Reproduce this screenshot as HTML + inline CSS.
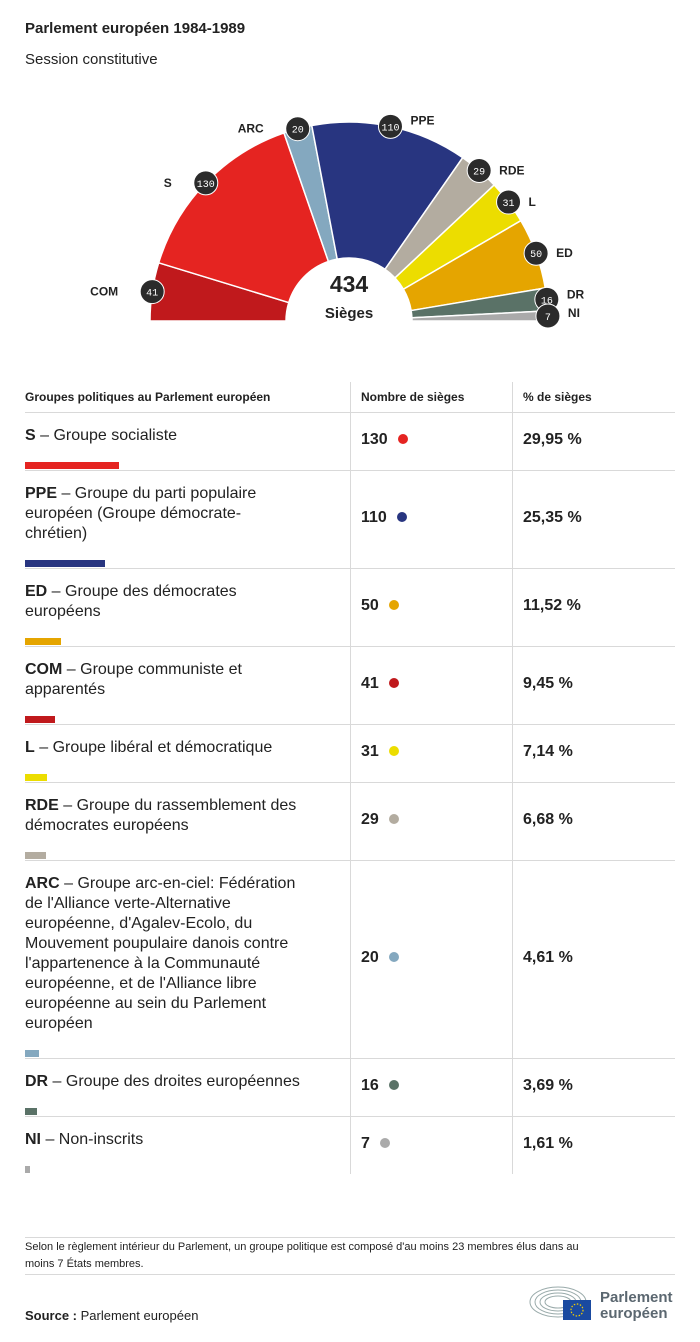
<!DOCTYPE html>
<html><head><meta charset="utf-8">
<style>
body{margin:0;background:#fff;font-family:"Liberation Sans",sans-serif;color:#222}
#root{position:relative;width:700px;height:1342px;overflow:hidden}
.abs{position:absolute}
.hl{position:absolute;height:1px;background:#d9d9d9}
.vl{position:absolute;width:1px;background:#d9d9d9}
.cell{position:absolute;font-size:16px;line-height:20px;color:#222}
.num{font-weight:bold}
.dot{display:inline-block;width:10px;height:10px;border-radius:50%;margin-left:10px;vertical-align:0px}
</style></head><body>
<div id="root">
<div class="abs" style="left:25px;top:20px;font-size:15px;font-weight:bold">Parlement européen 1984-1989</div>
<div class="abs" style="left:25px;top:51px;font-size:15px">Session constitutive</div>
<svg id="hemi" class="abs" style="left:0;top:0" width="700" height="360"></svg>

<div class="cell" style="left:25px;top:387px;font-size:12px;font-weight:bold">Groupes politiques au Parlement européen</div>
<div class="cell" style="left:361px;top:387px;font-size:12px;font-weight:bold">Nombre de sièges</div>
<div class="cell" style="left:523px;top:387px;font-size:12px;font-weight:bold">% de sièges</div>
<div class="vl" style="left:350px;top:382px;height:792px"></div>
<div class="vl" style="left:512px;top:382px;height:792px"></div>
<div class="hl" style="left:25px;width:650px;top:412px"></div>
<div id="table"></div>

<div class="hl" style="left:25px;width:650px;top:1237px"></div>
<div class="abs" style="left:25px;top:1239px;font-size:11px;line-height:17px;width:630px">Selon le règlement intérieur du Parlement, un groupe politique est composé d'au moins 23 membres élus dans au<br>moins 7 États membres.</div>
<div class="hl" style="left:25px;width:650px;top:1274px"></div>
<div class="abs" style="left:25px;top:1308px;font-size:13px"><b>Source :</b> Parlement européen</div>
<svg class="abs" style="left:528px;top:1284px" width="70" height="40">
<g fill="none" stroke="#9aa" stroke-width="1">
<ellipse cx="30" cy="18" rx="28" ry="15"/><ellipse cx="30" cy="18" rx="23" ry="12"/><ellipse cx="30" cy="18" rx="18" ry="9"/><ellipse cx="30" cy="18" rx="13" ry="6"/></g>
<rect x="35" y="16" width="28" height="20" fill="#1a4aa0"/>
<circle cx="49" cy="26" r="6" fill="none" stroke="#f5d000" stroke-width="1.2" stroke-dasharray="1.5 1.6"/>
</svg>
<div class="abs" style="left:600px;top:1290px;font-size:15px;line-height:16px;color:#5b6770;font-weight:bold">Parlement<br>européen</div>
</div>
<script>
const groups=["COM","S","ARC","PPE","RDE","L","ED","DR","NI"];
const seats=[41,130,20,110,29,31,50,16,7];
const colors=["#c0191c","#e52421","#84a8bf","#283580","#b3aca0","#ecdd00","#e5a500","#5a7267","#aaaaaa"];
const tblCodes=["S","PPE","ED","COM","L","RDE","ARC","DR","NI"];
const tblNames=[" – Groupe socialiste"," – Groupe du parti populaire<br>européen (Groupe démocrate-<br>chrétien)"," – Groupe des démocrates<br>européens"," – Groupe communiste et<br>apparentés"," – Groupe libéral et démocratique"," – Groupe du rassemblement des<br>démocrates européens"," – Groupe arc-en-ciel: Fédération<br>de l'Alliance verte-Alternative<br>européenne, d'Agalev-Ecolo, du<br>Mouvement poupulaire danois contre<br>l'appartenence à la Communauté<br>européenne, et de l'Alliance libre<br>européenne au sein du Parlement<br>européen"," – Groupe des droites européennes"," – Non-inscrits"];
const tblSeats=[130,110,50,41,31,29,20,16,7];
const tblPct=["29,95 %","25,35 %","11,52 %","9,45 %","7,14 %","6,68 %","4,61 %","3,69 %","1,61 %"];
const tblColors=["#e52421","#283580","#e5a500","#c0191c","#ecdd00","#b3aca0","#84a8bf","#5a7267","#aaaaaa"];

const NS="http://www.w3.org/2000/svg";
const svg=document.getElementById('hemi');
const cx=349,cy=321,r0=63,r1=199;
const total=seats.reduce((a,b)=>a+b,0);
function ang(s){return Math.PI-Math.PI*s/total;}
function pt(r,a){return [cx+r*Math.cos(a),cy-r*Math.sin(a)];}
let acc=0;
const badges=[];
seats.forEach((v,i)=>{
  const a0=ang(acc),a1=ang(acc+v),am=ang(acc+v/2);acc+=v;
  const p1=pt(r1,a0),p2=pt(r1,a1),p3=pt(r0,a1),p4=pt(r0,a0);
  const path=document.createElementNS(NS,'path');
  path.setAttribute('d',`M${p1[0]},${p1[1]} A${r1},${r1} 0 0 1 ${p2[0]},${p2[1]} L${p3[0]},${p3[1]} A${r0},${r0} 0 0 0 ${p4[0]},${p4[1]}Z`);
  path.setAttribute('fill',colors[i]);path.setAttribute('stroke','#fff');path.setAttribute('stroke-width','1.5');
  
  
  svg.appendChild(path);
  badges.push([pt(r1,am),i]);
});
badges.forEach(([p,i])=>{
  const g=document.createElementNS(NS,'g');
  
  
  const c=document.createElementNS(NS,'circle');
  c.setAttribute('cx',p[0]);c.setAttribute('cy',p[1]);c.setAttribute('r',12);
  c.setAttribute('fill','#2b2b2b');c.setAttribute('stroke','#fff');c.setAttribute('stroke-width','1');
  g.appendChild(c);
  const t=document.createElementNS(NS,'text');
  t.setAttribute('x',p[0]);t.setAttribute('y',p[1]+4);t.setAttribute('text-anchor','middle');
  t.setAttribute('fill','#fff');t.setAttribute('font-size','10');t.setAttribute('font-family','Liberation Mono, monospace');
  t.textContent=seats[i];g.appendChild(t);
  const l=document.createElementNS(NS,'text');
  const left=p[0]<cx;
  l.setAttribute('x',left?p[0]-34:p[0]+20);l.setAttribute('y',p[1]+(i==7?-1:i==8?1:4)+(i==3?-6:0));
  l.setAttribute('text-anchor',left?'end':'start');
  l.setAttribute('font-size','12');l.setAttribute('font-weight','bold');l.setAttribute('fill','#222');
  l.setAttribute('font-family','Liberation Sans, sans-serif');
  
  
  l.textContent=groups[i];
  g.appendChild(l);
  svg.appendChild(g);
});
const t1=document.createElementNS(NS,'text');
t1.setAttribute('x',cx);t1.setAttribute('y',292);t1.setAttribute('text-anchor','middle');
t1.setAttribute('font-size','23');t1.setAttribute('font-weight','bold');t1.setAttribute('fill','#222');t1.setAttribute('font-family','Liberation Sans, sans-serif');


t1.textContent=total;svg.appendChild(t1);
const t2=document.createElementNS(NS,'text');
t2.setAttribute('x',cx);t2.setAttribute('y',318);t2.setAttribute('text-anchor','middle');
t2.setAttribute('font-size','15');t2.setAttribute('font-weight','bold');t2.setAttribute('fill','#222');t2.setAttribute('font-family','Liberation Sans, sans-serif');


t2.textContent='Sièges';svg.appendChild(t2);

const tbl=document.getElementById('table');
let y=412;
tblCodes.forEach((code,i)=>{
  const lines=tblNames[i].split('<br>').length;
  const h=38+20*lines;
  const row=document.createElement('div');
  
  
  row.innerHTML=`<div class="cell" style="left:25px;top:${y+14}px;width:320px"><b>${code}</b>${tblNames[i]}</div>`+
  `<div class="abs" style="left:25px;top:${y+h-8}px;height:7px;width:${tblSeats[i]*0.723}px;background:${tblColors[i]}"></div>`+
  `<div class="cell num" style="left:361px;top:${y+h/2-11}px">${tblSeats[i]}<span class="dot" style="background:${tblColors[i]}"></span></div>`+
  `<div class="cell num" style="left:523px;top:${y+h/2-11}px">${tblPct[i]}</div>`+
  (i<8?`<div class="hl" style="left:25px;width:650px;top:${y+h}px"></div>`:'');
  tbl.appendChild(row);
  y+=h;
});
</script>
</body></html>
